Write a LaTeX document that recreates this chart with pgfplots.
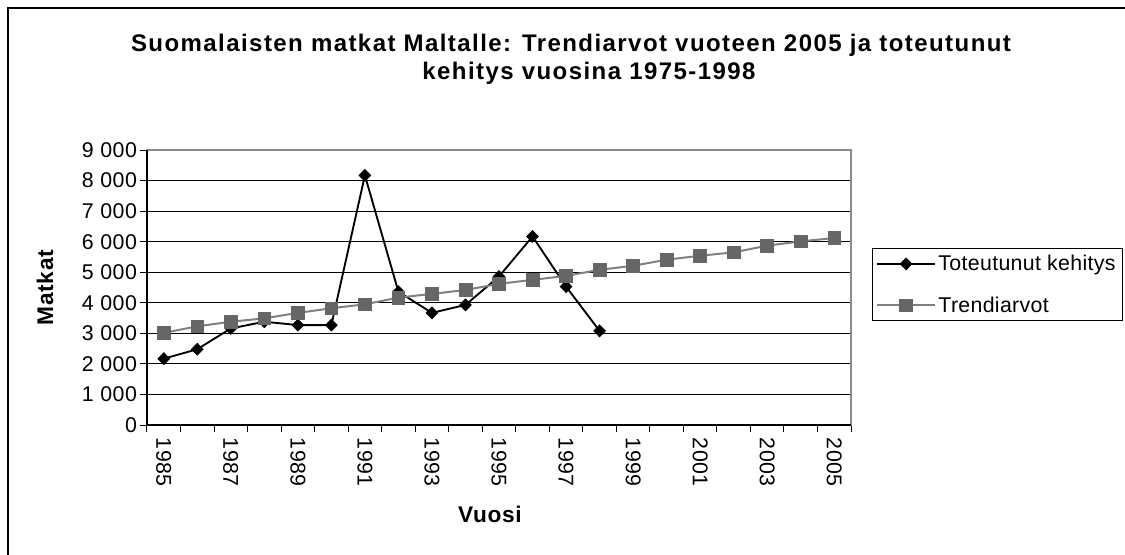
\documentclass[border=0pt]{standalone}
\usepackage{pgfplots}
\pgfplotsset{compat=1.18}
\usepackage{fontspec}
\setmainfont{Liberation Sans}
\newfontfamily\titlefont[LetterSpace=6]{Liberation Sans}
\newfontfamily\tickfont[LetterSpace=2.5]{Liberation Sans}
\newfontfamily\legendfont[LetterSpace=1.5]{Liberation Sans}
\newfontfamily\labelfont[LetterSpace=3]{Liberation Sans}
\definecolor{trendline}{HTML}{808080}
\definecolor{trendmark}{HTML}{666666}
\definecolor{boxgray}{HTML}{8C8C8C}
\pgfplotstableread{
year value
1985 2170
1986 2480
1987 3160
1988 3380
1989 3270
1990 3270
1991 8170
1992 4360
1993 3670
1994 3930
1995 4860
1996 6170
1997 4530
1998 3080
}\actualdata
\pgfplotstableread{
year value
1985 3015
1986 3230
1987 3380
1988 3490
1989 3670
1990 3820
1991 3950
1992 4170
1993 4290
1994 4420
1995 4620
1996 4750
1997 4880
1998 5080
1999 5210
2000 5410
2001 5540
2002 5650
2003 5870
2004 6010
2005 6120
}\trenddata
\begin{document}
\begin{tikzpicture}[x=0.75pt,y=0.75pt]
\useasboundingbox (0,0) rectangle (1125,554);
\fill[white] (0,0) rectangle (1125,554);
\draw[black, line width=1.5pt] (8,-2) -- (8,546) -- (1127,546);
\begin{axis}[
  at={(110.25pt,96.75pt)}, anchor=south west,
  scale only axis, width=528pt, height=206.25pt,
  xmin=1984.5, xmax=2005.5, ymin=0, ymax=9000,
  xtick={1984.5,1985.5,1986.5,1987.5,1988.5,1989.5,1990.5,1991.5,1992.5,1993.5,1994.5,1995.5,1996.5,1997.5,1998.5,1999.5,2000.5,2001.5,2002.5,2003.5,2004.5,2005.5},
  xticklabels={},
  extra x ticks={1985,1987,1989,1991,1993,1995,1997,1999,2001,2003,2005},
  extra x tick labels={1985,1987,1989,1991,1993,1995,1997,1999,2001,2003,2005},
  extra x tick style={major tick length=0pt, grid=none,
     tick label style={rotate=-90, anchor=west, xshift=6pt, font=\tickfont\fontsize{16}{18}\selectfont}},
  ytick={0,1000,...,9000},
  tick align=outside, tick pos=left, major tick length=5pt,
  every tick/.style={black, line width=0.75pt},
  ymajorgrids, major grid style={black, line width=0.75pt},
  axis line style={boxgray, line width=1.5pt},
  /pgf/number format/assume math mode=true,
  yticklabel style={font=\tickfont\fontsize{16}{18}\selectfont, xshift=1pt,
     /pgf/number format/.cd, fixed, precision=0, 1000 sep={\ }},
  xlabel={Vuosi}, ylabel={Matkat},
  every axis x label/.style={at={(axis description cs:0.487,-0.3236)}, anchor=center,
     font=\labelfont\bfseries\fontsize{17}{19}\selectfont},
  every axis y label/.style={at={(axis description cs:-0.145,0.5)}, rotate=90, anchor=center,
     font=\labelfont\bfseries\fontsize{17}{19}\selectfont},
  legend style={at={(1.0298,0.6436)}, anchor=north west, draw=black, line width=0.75pt,
     font=\legendfont\fontsize{16}{18}\selectfont, inner xsep=3pt, inner ysep=3pt,
     row sep=14pt, cells={anchor=west}},
  legend image code/.code={\draw[mark repeat=2,mark phase=2] plot coordinates {(0pt,0pt) (21.5pt,0pt) (43pt,0pt)};},
  clip=false,
]
\addplot[black, line width=1.4pt, mark=diamond*, mark size=4.5pt,
  mark options={fill=black, draw=black, line width=0.5pt, xscale=1.3}] table[x=year, y=value] {\actualdata};
\addlegendentry{Toteutunut kehitys}
\addplot[trendline, line width=1.5pt, mark=square*, mark size=4.8pt,
  mark options={fill=trendmark, draw=trendmark, line width=0.5pt}] table[x=year, y=value] {\trenddata};
\addlegendentry{Trendiarvot}
\draw[black, line width=1.5pt] (rel axis cs:0,1) -- (rel axis cs:0,0) -- (rel axis cs:1,0);
\end{axis}
\node[font=\titlefont\bfseries\fontsize{18}{22}\selectfont, anchor=base] at (571,502) {Suomalaisten matkat Maltalle: Trendiarvot vuoteen 2005 ja toteutunut};
\node[font=\titlefont\bfseries\fontsize{18}{22}\selectfont, anchor=base] at (589,474) {kehitys vuosina 1975-1998};
\end{tikzpicture}
\end{document}
